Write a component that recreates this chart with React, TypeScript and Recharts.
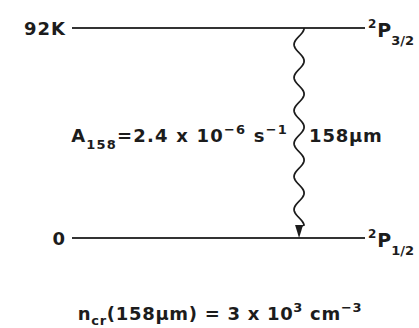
import { ComposedChart, Line, ReferenceLine, XAxis, YAxis } from 'recharts';

// energy levels of the [C II] fine-structure pair (K)
const levelEnergies = [92, 0];
const levelNames = ['92K', '0'];
const levelTerms = ['3/2', '1/2'];
const transitionX = 77.5;

const font = '"DejaVu Sans", Verdana, sans-serif';
const ink = '#1c1c1c';

function levelData(e: number) {
  return [{ x: 0, y: e }, { x: 100, y: e }];
}

function LevelLabel(props: any, i: number) {
  const { x, y, index } = props;
  if (index === 0) {
    return (
      <text x={x - 6} y={y + 7} textAnchor="end" fontFamily={font} fontWeight="bold" fontSize={18} letterSpacing={1} fill={ink}>
        {levelNames[i]}
      </text>
    );
  }
  return (
    <text x={x + 3} y={y + 9} fontFamily={font} fontWeight="bold" fontSize={19} fill={ink}>
      <tspan fontSize={12} dy={-9}>2</tspan>
      <tspan dx={1} dy={9}>P</tspan>
      <tspan fontSize={13} dy={8}>{levelTerms[i]}</tspan>
    </text>
  );
}

function WavyArrow(props: any) {
  const { x1, y1, y2 } = props;
  const cx = x1;
  const end = y2 - 13;
  let d = `M ${cx + 5} ${y1}`;
  for (let y = y1; y <= end; y += 1) {
    d += ` L ${cx + 5 * Math.cos((2 * Math.PI * (y - y1)) / 33)} ${y}`;
  }
  d += ` L ${cx} ${end + 2}`;
  return (
    <g>
      <path d={d} fill="none" stroke={ink} strokeWidth={1.8} />
      <polygon points={`${cx - 4},${end} ${cx + 4},${end} ${cx},${y2}`} fill={ink} />
      <text x={cx - 11} y={142} textAnchor="end" fontFamily={font} fontWeight="bold" fontSize={18} letterSpacing={1.2} fill={ink}>
        A<tspan fontSize={13} dy={7}>158</tspan>
        <tspan dy={-7}>=2.4 x 10</tspan>
        <tspan fontSize={13} dy={-8}>−6</tspan>
        <tspan dy={8}> s</tspan>
        <tspan fontSize={13} dy={-8}>−1</tspan>
      </text>
      <text x={cx + 10} y={142} fontFamily={font} fontWeight="bold" fontSize={18} letterSpacing={0.8} fill={ink}>
        158µm
      </text>
    </g>
  );
}

export default function App() {
  return (
    <div style={{ position: 'absolute', left: 0, top: 0, width: 419, height: 328, background: '#fff' }}>
      <ComposedChart width={419} height={328} margin={{ top: 28, right: 54, bottom: 90, left: 72 }}>
        <XAxis type="number" dataKey="x" domain={[0, 100]} hide />
        <YAxis type="number" dataKey="y" domain={[0, 92]} hide />
        {levelEnergies.map((e, i) => (
          <Line
            key={e}
            data={levelData(e)}
            dataKey="y"
            stroke="#333"
            strokeWidth={2}
            dot={false}
            isAnimationActive={false}
            label={(p: any) => LevelLabel(p, i)}
          />
        ))}
        <ReferenceLine
          segment={[{ x: transitionX, y: levelEnergies[0] }, { x: transitionX, y: levelEnergies[1] }]}
          shape={WavyArrow}
        />
        <text x={220} y={320} textAnchor="middle" fontFamily={font} fontWeight="bold" fontSize={18} letterSpacing={0.7} fill={ink}>
          n<tspan fontSize={13} dy={5}>cr</tspan>
          <tspan dy={-5}>(158µm) = 3 x 10</tspan>
          <tspan fontSize={13} dy={-8}>3</tspan>
          <tspan dy={8}> cm</tspan>
          <tspan fontSize={13} dy={-8}>−3</tspan>
        </text>
      </ComposedChart>
    </div>
  );
}
